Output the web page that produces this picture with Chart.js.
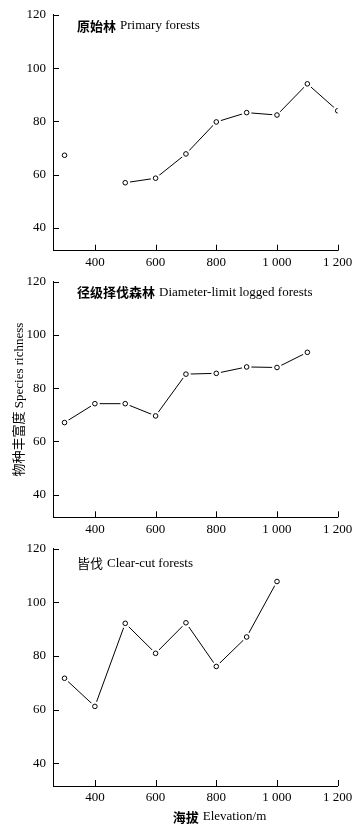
<!DOCTYPE html>
<html><head><meta charset="utf-8">
<script src="https://cdn.jsdelivr.net/npm/chart.js@4.4.0/dist/chart.umd.min.js"></script>
<style>
body{margin:0;background:#fff;width:364px;height:829px;overflow:hidden;position:relative}
canvas{position:absolute;left:0}
</style></head><body>
<canvas id="c1" width="364" height="267" style="top:0"></canvas>
<canvas id="c2" width="364" height="267" style="top:267px"></canvas>
<canvas id="c3" width="364" height="295" style="top:534px"></canvas>
<script>
// elevation classes (m) and species richness
var elevation = [300, 400, 500, 600, 700, 800, 900, 1000, 1100, 1200];
var primary = [67.3, null, 57.0, 58.7, 67.8, 79.8, 83.3, 82.4, 94.1, 84.0];
var diameterLimit = [67.1, 74.2, 74.2, 69.6, 85.3, 85.6, 88.0, 87.8, 93.5, null];
var clearCut = [71.7, 61.2, 92.2, 81.0, 92.4, 76.1, 87.1, 107.8, null, null];
var xTicks = [400, 600, 800, 1000, 1200];
var yTicks = [40, 60, 80, 100, 120];
var panelCn = ['原始林', '径级择伐森林', '皆伐'];
var panelEn = ['Primary forests', 'Diameter-limit logged forests', 'Clear-cut forests'];
var yTitle = '物种丰富度 Species richness';
var xTitleCn = '海拔', xTitleEn = 'Elevation/m';

var serif = "'Liberation Serif', 'Noto Sans CJK SC', serif";
var cjk = "'Noto Sans CJK SC', sans-serif";

// inward tick marks + the text drawn inside the panels
var decor = {
  id: 'decor',
  afterDraw: function(chart, args, opts) {
    var ctx = chart.ctx, a = chart.chartArea;
    var sx = chart.scales.x, sy = chart.scales.y;
    ctx.save();
    ctx.strokeStyle = '#000';
    ctx.lineWidth = 1;
    ctx.beginPath();
    sx.ticks.forEach(function(t) {
      var px = Math.round(sx.getPixelForValue(t.value)) + 0.5;
      ctx.moveTo(px, a.bottom);
      ctx.lineTo(px, a.bottom - 6);
    });
    sy.ticks.forEach(function(t) {
      var py = Math.round(sy.getPixelForValue(t.value)) + 0.5;
      ctx.moveTo(a.left, py);
      ctx.lineTo(a.left + 6, py);
    });
    ctx.stroke();

    ctx.fillStyle = '#000';
    ctx.textBaseline = 'middle';
    ctx.textAlign = 'left';
    ctx.font = (opts.bold ? 'bold ' : '') + '13px ' + cjk;
    ctx.fillText(opts.cn, 77, a.top + opts.dy);
    var w = ctx.measureText(opts.cn).width;
    ctx.font = '13px ' + serif;
    ctx.fillText(opts.en, 77 + w + 4, a.top + opts.dy);

    if (opts.xTitle) {
      ctx.font = 'bold 13px ' + cjk;
      var w1 = ctx.measureText(xTitleCn).width;
      ctx.font = '13px ' + serif;
      var w2 = ctx.measureText(xTitleEn).width;
      var x0 = 219.5 - (w1 + 4 + w2) / 2;
      var y0 = a.bottom + 31;
      ctx.font = 'bold 13px ' + cjk;
      ctx.fillText(xTitleCn, x0, y0);
      ctx.font = '13px ' + serif;
      ctx.fillText(xTitleEn, x0 + w1 + 4, y0);
    }
    ctx.restore();
  }
};

function fmt(v) {
  return String(v).replace(/\B(?=(\d{3})+$)/g, ' ');
}

function makeChart(id, values, idx, cfg) {
  var pts = elevation.map(function(x, i) { return { x: x, y: values[i] }; });
  return new Chart(document.getElementById(id), {
    type: 'line',
    data: {
      datasets: [
        { data: pts, borderColor: '#000', borderWidth: 1, pointRadius: 0, spanGaps: false, order: 3 },
        { data: pts, showLine: false, pointRadius: 4.8, pointBorderWidth: 0, pointBackgroundColor: '#fff', order: 2 },
        { data: pts, showLine: false, pointRadius: 2.3, pointBorderWidth: 1, pointBorderColor: '#000', pointBackgroundColor: '#fff', order: 1 }
      ]
    },
    options: {
      responsive: false,
      animation: false,
      events: [],
      layout: { padding: { top: cfg.top, right: 26.3, bottom: 0, left: 0 } },
      plugins: {
        legend: { display: false },
        tooltip: { enabled: false },
        decor: { cn: panelCn[idx], en: panelEn[idx], dy: cfg.dy, bold: cfg.bold, xTitle: cfg.xTitle }
      },
      scales: {
        x: {
          type: 'linear', min: 262, max: 1200,
          afterBuildTicks: function(s) { s.ticks = xTicks.map(function(v) { return { value: v }; }); },
          afterFit: function(s) { s.height = cfg.xh; },
          grid: { display: false, drawTicks: false },
          border: { display: true, color: '#000', width: 1 },
          ticks: { color: '#000', padding: 4, maxRotation: 0, autoSkip: false,
                   font: { family: serif, size: 13 }, callback: function(v) { return fmt(v); } }
        },
        y: {
          min: 31.5, max: 120,
          afterBuildTicks: function(s) { s.ticks = yTicks.map(function(v) { return { value: v }; }); },
          afterFit: function(s) { s.width = 53; },
          grid: { display: false, drawTicks: false },
          border: { display: true, color: '#000', width: 1 },
          ticks: { color: '#000', padding: 7, font: { family: serif, size: 13 } },
          title: { display: !!cfg.yTitle, text: yTitle, color: '#000',
                   font: { family: serif, size: 13 }, padding: { top: 12, bottom: 0 } }
        }
      }
    },
    plugins: [decor]
  });
}

makeChart('c1', primary, 0, { top: 9.6, xh: 16.3, dy: 11, bold: true });
makeChart('c2', diameterLimit, 1, { top: 9.7, xh: 16.7, dy: 10.6, bold: true, yTitle: true });
makeChart('c3', clearCut, 2, { top: 9.7, xh: 43, dy: 14.6, bold: false, xTitle: true });
</script>
</body></html>
